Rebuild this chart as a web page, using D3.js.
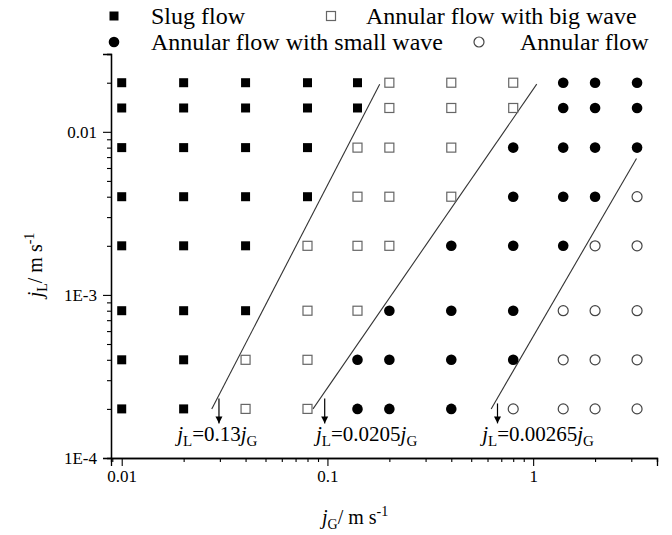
<!DOCTYPE html>
<html>
<head>
<meta charset="utf-8">
<script src="https://cdn.jsdelivr.net/npm/d3@7"></script>
<style>
  html, body { margin: 0; padding: 0; background: #fff; }
  svg { display: block; font-family: "Liberation Serif", "Times New Roman", serif; }
  svg text { font-family: "Liberation Serif", "Times New Roman", serif; }
</style>
</head>
<body>
<svg id="chart" width="672" height="535"></svg>
<script>
// ---------- data ----------
const jGValues = [0.01, 0.02, 0.04, 0.08, 0.14, 0.2, 0.4, 0.8, 1.4, 2, 3.2];
const jLValues = [0.02, 0.014, 0.008, 0.004, 0.002, 0.0008, 0.0004, 0.0002];
// S = slug flow, B = annular flow with big wave, C = annular flow with small wave, O = annular flow
const patternRows = [
  "SSSSSBBBCCC",
  "SSSSSBBBCCC",
  "SSSSBBBCCCC",
  "SSSSBBBCCCO",
  "SSSBBBCCCOO",
  "SSSBBCCCOOO",
  "SSBBCCCCOOO",
  "SSBBCCCOOOO"
];
const legendNames = ["Slug flow", "Annular flow with big wave", "Annular flow with small wave", "Annular flow"];
const legendCodes = ["S", "B", "C", "O"];

const boundaryCoef = ["0.13", "0.0205", "0.00265"];
const boundaryStart = [[0.0274, 0.0002], [0.0851, 0.0002], [0.625, 0.0002]];
const boundaryEnd = [[0.1795, 0.0196], [1.041, 0.0196], [3.18, 0.00687]];
const arrowJG = [0.0297, 0.097, 0.671];
const arrowTopJL = [0.000232, 0.000232, 0.000216];
const arrowTipJL = 0.000163;
const labelJG = [0.0186, 0.088, 0.565];
const labelJL = 0.000128;

const xMajor = [0.01, 0.1, 1];
const xMajorLabels = ["0.01", "0.1", "1"];
const xMinor = [0.009, 0.02, 0.03, 0.04, 0.05, 0.06, 0.07, 0.08, 0.09,
                0.2, 0.3, 0.4, 0.5, 0.6, 0.7, 0.8, 0.9, 2, 3, 4];
const yMajor = [1e-4, 1e-3, 1e-2];
const yMajorLabels = ["1E-4", "1E-3", "0.01"];
const yMinor = [2e-4, 3e-4, 4e-4, 5e-4, 6e-4, 7e-4, 8e-4, 9e-4,
                2e-3, 3e-3, 4e-3, 5e-3, 6e-3, 7e-3, 8e-3, 9e-3, 0.02, 0.03];

// ---------- scales ----------
const svg = d3.select("#chart");
const x = d3.scaleLog().domain([0.00887, 4]).range([111, 657]);
const y = d3.scaleLog().domain([1e-4, 0.03]).range([458, 54]);

// ---------- axes ----------
const SERIF = "Liberation Serif, Times New Roman, serif";
const axisG = svg.append("g");
const xAxisMajor = d3.axisBottom(x).tickValues(xMajor).tickFormat((d, i) => xMajorLabels[i]).tickSize(8).tickPadding(4);
const xAxisMinor = d3.axisBottom(x).tickValues(xMinor).tickFormat("").tickSize(4);
const yAxisMajor = d3.axisLeft(y).tickValues(yMajor).tickFormat((d, i) => yMajorLabels[i]).tickSize(8).tickPadding(6);
const yAxisMinor = d3.axisLeft(y).tickValues(yMinor).tickFormat("").tickSize(4);

function styleAxis(g) {
  g.attr("font-family", SERIF).attr("font-size", 17);
  g.selectAll("path.domain").attr("stroke", "#000").attr("stroke-width", 1.3);
  g.selectAll(".tick line").attr("stroke", "#000").attr("stroke-width", 1.1);
  g.selectAll(".tick text").attr("fill", "#000").attr("font-size", 17).attr("font-family", SERIF);
}
const gx1 = axisG.append("g").attr("transform", "translate(0,458)").call(xAxisMinor).call(styleAxis);
const gx2 = axisG.append("g").attr("transform", "translate(0,458)").call(xAxisMajor).call(styleAxis);
const gy1 = axisG.append("g").attr("transform", "translate(111,0)").call(yAxisMinor).call(styleAxis);
const gy2 = axisG.append("g").attr("transform", "translate(111,0)").call(yAxisMajor).call(styleAxis);

// axis titles
const xTitle = svg.append("text").attr("x", 322).attr("y", 524).attr("font-size", 20);
xTitle.append("tspan").attr("font-style", "italic").text("j");
xTitle.append("tspan").attr("dy", 5).attr("font-size", 14).text("G");
xTitle.append("tspan").attr("dy", -5).text("/ m s");
xTitle.append("tspan").attr("dy", -8).attr("font-size", 14).text("-1");

const yTitle = svg.append("text").attr("transform", "translate(42,265) rotate(-90)")
  .attr("text-anchor", "middle").attr("font-size", 20);
yTitle.append("tspan").attr("font-style", "italic").text("j");
yTitle.append("tspan").attr("dy", 5).attr("font-size", 14).text("L");
yTitle.append("tspan").attr("dy", -5).text("/ m s");
yTitle.append("tspan").attr("dy", -8).attr("font-size", 14).text("-1");

// ---------- markers ----------
function drawMarker(g, code, cx, cy) {
  if (code === "S") {
    g.append("rect").attr("x", cx - 4.5).attr("y", cy - 4.5).attr("width", 9).attr("height", 9).attr("fill", "#000");
  } else if (code === "B") {
    g.append("rect").attr("x", cx - 4.5).attr("y", cy - 4.5).attr("width", 9).attr("height", 9)
      .attr("fill", "#fff").attr("stroke", "#666").attr("stroke-width", 1.2);
  } else if (code === "C") {
    g.append("circle").attr("cx", cx).attr("cy", cy).attr("r", 5.3).attr("fill", "#000");
  } else {
    g.append("circle").attr("cx", cx).attr("cy", cy).attr("r", 5).attr("fill", "#fff")
      .attr("stroke", "#444").attr("stroke-width", 1.2);
  }
}

const points = [];
jLValues.forEach((l, r) => jGValues.forEach((gv, c) => points.push({ jG: gv, jL: l, code: patternRows[r][c] })));

// boundary lines
const lineGen = d3.line().x(d => x(d[0])).y(d => y(d[1]));
const linesG = svg.append("g");
boundaryStart.forEach((s, i) => {
  linesG.append("path").attr("d", lineGen([s, boundaryEnd[i]]))
    .attr("fill", "none").attr("stroke", "#333").attr("stroke-width", 1.1);
});

const ptsG = svg.append("g");
points.forEach(p => drawMarker(ptsG, p.code, x(p.jG), y(p.jL)));

// arrows
svg.append("defs").append("marker").attr("id", "ah").attr("viewBox", "0 0 10 10")
  .attr("refX", 10).attr("refY", 5).attr("markerWidth", 7).attr("markerHeight", 9)
  .attr("markerUnits", "userSpaceOnUse").attr("orient", "auto")
  .append("path").attr("d", "M0,0 L10,5 L0,10 Z").attr("fill", "#000");
arrowJG.forEach((a, i) => {
  svg.append("line").attr("x1", x(a)).attr("x2", x(a))
    .attr("y1", y(arrowTopJL[i])).attr("y2", y(arrowTipJL))
    .attr("stroke", "#000").attr("stroke-width", 1.2).attr("marker-end", "url(#ah)");
});

// labels
boundaryCoef.forEach((k, i) => {
  const t = svg.append("text").attr("x", x(labelJG[i])).attr("y", y(labelJL)).attr("font-size", 21);
  t.append("tspan").attr("font-style", "italic").text("j");
  t.append("tspan").attr("dy", 5).attr("font-size", 15).text("L");
  t.append("tspan").attr("dy", -5).text("=" + k);
  t.append("tspan").attr("font-style", "italic").text("j");
  t.append("tspan").attr("dy", 5).attr("font-size", 15).text("G");
});

// ---------- legend ----------
const legendPos = [[114, 16, 151], [331, 16, 366], [114, 42, 151], [479, 42, 520]];
const legG = svg.append("g");
legendCodes.forEach((c, i) => {
  const [mx, my, tx] = legendPos[i];
  drawMarker(legG, c, mx, my);
  legG.append("text").attr("x", tx).attr("y", my + 8).attr("font-size", 24).text(legendNames[i]);
});
</script>
</body>
</html>
